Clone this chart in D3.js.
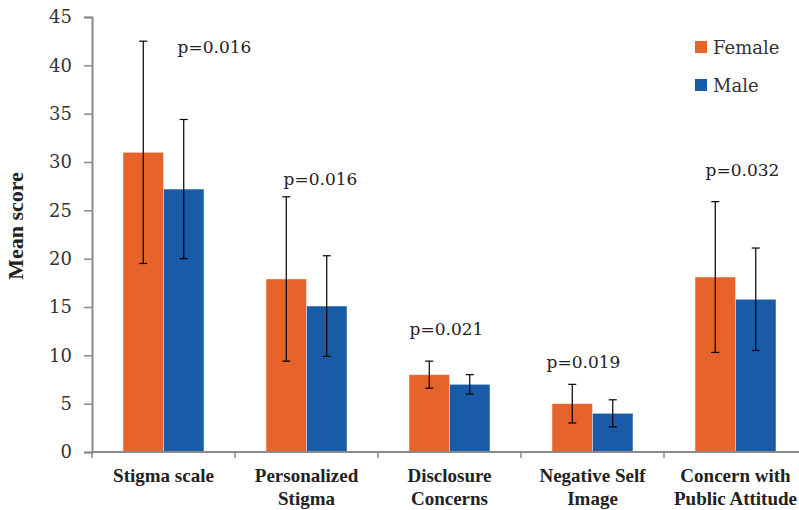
<!DOCTYPE html>
<html>
<head>
<meta charset="utf-8">
<script src="https://cdn.jsdelivr.net/npm/d3@7"></script>
<style>
  body { margin: 0; background: #fff; }
  svg { display: block; }
</style>
</head>
<body>
<script>
// chart data
var categories = [["Stigma scale"], ["Personalized", "Stigma"], ["Disclosure", "Concerns"], ["Negative Self", "Image"], ["Concern with", "Public Attitude"]];
var seriesNames = ["Female", "Male"];
var femaleMean = [31.0, 17.9, 8.0, 5.0, 18.1];
var femaleSD = [11.5, 8.5, 1.4, 2.0, 7.8];
var maleMean = [27.2, 15.1, 7.0, 4.0, 15.8];
var maleSD = [7.2, 5.2, 1.0, 1.4, 5.3];
var pValues = ["p=0.016", "p=0.016", "p=0.021", "p=0.019", "p=0.032"];
var yTicks = [0, 5, 10, 15, 20, 25, 30, 35, 40, 45];

// p label placement (data units / px offsets)
var pLabelY = [41.3, 27.6, 12.1, 8.7, 28.6];
var pLabelDx = [51, 14, -3, -9, 7];

var colors = { Female: "#E8632A", Male: "#1A5BA7" };

var svgWidth = 799, svgHeight = 510;
var margin = { top: 17, right: -8, bottom: 58, left: 92 };
var chartWidth = svgWidth - margin.left - margin.right;
var chartHeight = svgHeight - margin.top - margin.bottom;

var svg = d3.select("body").append("svg")
  .attr("width", svgWidth)
  .attr("height", svgHeight);

var g = svg.append("g")
  .attr("transform", `translate(${margin.left}, ${margin.top})`);

var idx = d3.range(categories.length);

var x0 = d3.scaleBand().domain(idx).range([0, chartWidth]);
var bw = x0.bandwidth();
var x1 = d3.scaleBand().domain(seriesNames).range([bw * 0.217, bw * 0.783]);

var y = d3.scaleLinear().domain([0, 45]).range([chartHeight, 0]);

// bars
var rows = [];
idx.forEach(function(i) {
  rows.push({ i: i, s: "Female", v: femaleMean[i], sd: femaleSD[i] });
  rows.push({ i: i, s: "Male", v: maleMean[i], sd: maleSD[i] });
});

g.selectAll("rect.bar")
  .data(rows)
  .enter().append("rect")
  .attr("class", "bar")
  .attr("x", d => x0(d.i) + x1(d.s))
  .attr("y", d => y(d.v))
  .attr("width", x1.bandwidth())
  .attr("height", d => y(0) - y(d.v))
  .attr("fill", d => colors[d.s])
  .attr("stroke", "#ffffff")
  .attr("stroke-opacity", 0.5)
  .attr("stroke-width", 0.8);

// error bars
var err = g.selectAll("g.err")
  .data(rows)
  .enter().append("g")
  .attr("class", "err")
  .attr("transform", d => `translate(${x0(d.i) + x1(d.s) + x1.bandwidth() / 2}, 0)`);

err.append("line")
  .attr("y1", d => y(d.v + d.sd))
  .attr("y2", d => y(d.v - d.sd))
  .attr("stroke", "#000").attr("stroke-width", 1.2);
err.append("line")
  .attr("x1", -4).attr("x2", 4)
  .attr("y1", d => y(d.v + d.sd)).attr("y2", d => y(d.v + d.sd))
  .attr("stroke", "#000").attr("stroke-width", 1.2);
err.append("line")
  .attr("x1", -4).attr("x2", 4)
  .attr("y1", d => y(d.v - d.sd)).attr("y2", d => y(d.v - d.sd))
  .attr("stroke", "#000").attr("stroke-width", 1.2);

// y axis
var yAxis = g.append("g")
  .call(d3.axisLeft(y).tickValues(yTicks).tickSize(8).tickPadding(12));
yAxis.select(".domain").attr("stroke", "#8a8a8a").attr("stroke-width", 2);
yAxis.selectAll(".tick line").attr("stroke", "#8a8a8a").attr("stroke-width", 1.5);
yAxis.selectAll(".tick text")
  .attr("font-family", "DejaVu Serif")
  .attr("font-size", 18)
  .attr("fill", "#333");

// x axis: baseline with ticks between categories
var xAxisG = g.append("g").attr("transform", `translate(0, ${chartHeight})`);
xAxisG.append("line")
  .attr("x1", 0).attr("x2", chartWidth)
  .attr("stroke", "#8a8a8a").attr("stroke-width", 2);
xAxisG.selectAll("line.sep")
  .data(d3.range(categories.length + 1))
  .enter().append("line")
  .attr("class", "sep")
  .attr("x1", i => i * bw).attr("x2", i => i * bw)
  .attr("y1", 0).attr("y2", 6)
  .attr("stroke", "#8a8a8a").attr("stroke-width", 1.5);

var catText = xAxisG.selectAll("text.cat")
  .data(idx)
  .enter().append("text")
  .attr("class", "cat")
  .attr("x", i => x0(i) + bw / 2)
  .attr("y", 30)
  .attr("text-anchor", "middle")
  .attr("font-family", "Liberation Serif")
  .attr("font-weight", "bold")
  .attr("font-size", 19)
  .attr("fill", "#222");
catText.each(function(i) {
  var t = d3.select(this);
  categories[i].forEach(function(line, k) {
    t.append("tspan")
      .attr("x", x0(i) + bw / 2)
      .attr("dy", k === 0 ? 0 : 23)
      .text(line);
  });
});

// p-value labels
g.selectAll("text.pval")
  .data(idx)
  .enter().append("text")
  .attr("class", "pval")
  .attr("x", i => x0(i) + bw / 2 + pLabelDx[i])
  .attr("y", i => y(pLabelY[i]))
  .attr("text-anchor", "middle")
  .attr("font-family", "DejaVu Serif")
  .attr("font-size", 17)
  .attr("fill", "#222")
  .text(i => pValues[i]);

// y axis title
svg.append("text")
  .attr("transform", "translate(23, 226) rotate(-90)")
  .attr("text-anchor", "middle")
  .attr("font-family", "Liberation Serif")
  .attr("font-weight", "bold")
  .attr("font-size", 22)
  .attr("fill", "#222")
  .text("Mean score");

// legend
var legend = svg.append("g").attr("transform", "translate(695, 41)");
var li = legend.selectAll("g")
  .data(seriesNames)
  .enter().append("g")
  .attr("transform", (d, k) => `translate(0, ${k * 38})`);
li.append("rect")
  .attr("width", 12).attr("height", 12)
  .attr("fill", d => colors[d]);
li.append("text")
  .attr("x", 18).attr("y", 13)
  .attr("font-family", "DejaVu Serif")
  .attr("font-size", 18)
  .attr("fill", "#333")
  .text(d => d);
</script>
</body>
</html>
